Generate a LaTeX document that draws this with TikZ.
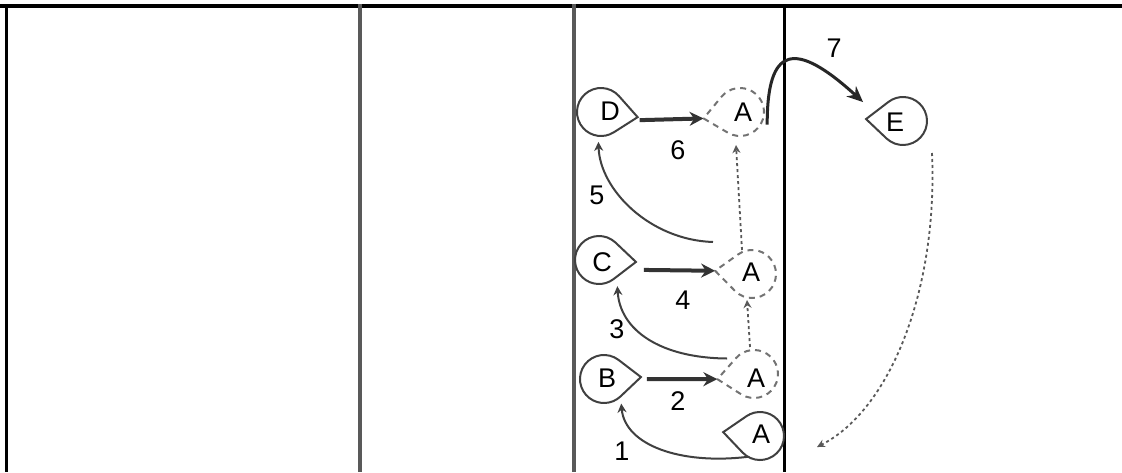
\documentclass[tikz,border=0pt]{standalone}
\usepackage{fontspec}
\setmainfont{Liberation Sans}
\usetikzlibrary{calc,arrows.meta}
\tikzset{
  lbl/.style={inner sep=0pt, font=\fontsize{27}{27}\selectfont},
  numlbl/.style={inner sep=0pt, font=\fontsize{27}{27}\selectfont},
  tearsolid/.style={draw=black!75, line width=2pt},
  teardash/.style={draw=black!55, line width=2pt, dash pattern=on 6pt off 5pt},
  bigarrow/.style={draw=black!80, line width=4pt, -{Stealth[length=14pt,width=14pt]}},
  thinarrow/.style={draw=black!75, line width=2pt, -{Stealth[length=9pt,width=9pt]}},
  dasharrow/.style={draw=black!65, line width=1.8pt, dash pattern=on 3pt off 3pt, -{Stealth[length=8pt,width=8pt]}},
  curvearrow/.style={draw=black!85, line width=3pt, -{Stealth[length=16pt,width=14pt]}},
  rulebk/.style={draw=black, line width=3pt},
  rulegy/.style={draw=black!65, line width=4pt}
}
\newcommand\teardrop[6]{%
  \coordinate (#1-c) at (#3);
  \coordinate (#1-tip) at ($(#1-c)+(#4:37)$);
  \draw[#6] (#1-tip) -- ($(#1-c)+(#4+50:24)$) arc[start angle=#4+50, end angle=#4+310, radius=24] -- cycle;
  \node[lbl] (#1) at (#2) {#5};
}
\begin{document}
\begin{tikzpicture}[x=1pt,y=1pt]
\useasboundingbox (0,0) rectangle (1122,-472);
% frame
\draw[rulebk, line width=4pt] (0,-6) -- (1122,-6);
\draw[rulebk] (6,-4) -- (6,-472);
\draw[rulegy] (360,-4) -- (360,-472);
\draw[rulegy] (574,-4) -- (574,-472);
\draw[rulebk] (784,-4) -- (784,-472);
% nodes
\teardrop{D}{610,-111}{601,-112}{-8}{D}{tearsolid}
\teardrop{Atop}{743,-112}{740,-112}{190}{A}{teardash}
\teardrop{C}{602,-262}{599,-260}{-3}{C}{tearsolid}
\teardrop{Amid}{751,-272}{752,-274}{175}{A}{teardash}
\teardrop{B}{607,-378}{604,-379}{3}{B}{tearsolid}
\teardrop{Alow}{756,-378}{754,-374}{188}{A}{teardash}
\teardrop{Abot}{761,-434}{760,-436}{174}{A}{tearsolid}
\teardrop{E}{895,-122}{903,-121}{177}{E}{tearsolid}
\coordinate (Eend) at (817,-447);
% connectors
\draw[thinarrow] ($(Abot-c)+(-120:24)$) .. controls (680,-465) and (625,-445) .. ($(B-c)+(-55:30)$);
\draw[bigarrow] ($(B-tip)+(6,-2)$) -- (Alow-tip);
\draw[thinarrow] ($(Alow-c)+(150:31)$) .. controls (660,-358) and (620,-330) .. ($(C-c)+(-55:32)$);
\draw[bigarrow] ($(C-tip)+(8,-8)$) -- (Amid-tip);
\draw[thinarrow] ($(Amid-c)+(-39,32)$) .. controls (650,-240) and (600,-190) .. ($(D-c)+(-95:30)$);
\draw[bigarrow] ($(D-tip)+(2,-3)$) -- (Atop-tip);
\draw[curvearrow] ($(Atop-c)+(-25:30)$) .. controls (767,-45) and (795,-40) .. ($(E-tip)+(-3,17)$);
\draw[dasharrow] ($(Alow-c)+(-4,27)$) -- ($(Amid-c)+(-5,-26)$);
\draw[dasharrow] ($(Amid-c)+(-10,24)$) -- ($(Atop-c)+(-4,-33)$);
\draw[dasharrow] ($(E-c)+(29,-32)$) .. controls (938,-290) and (890,-410) .. (Eend);
% labels
\node[numlbl] (n1) at (622,-451) {1};
\node[numlbl] (n2) at (678,-401) {2};
\node[numlbl] (n3) at (617,-329) {3};
\node[numlbl] (n4) at (683,-300) {4};
\node[numlbl] (n5) at (597,-195) {5};
\node[numlbl] (n6) at (678,-150) {6};
\node[numlbl] (n7) at (834,-48) {7};
\end{tikzpicture}
\end{document}
